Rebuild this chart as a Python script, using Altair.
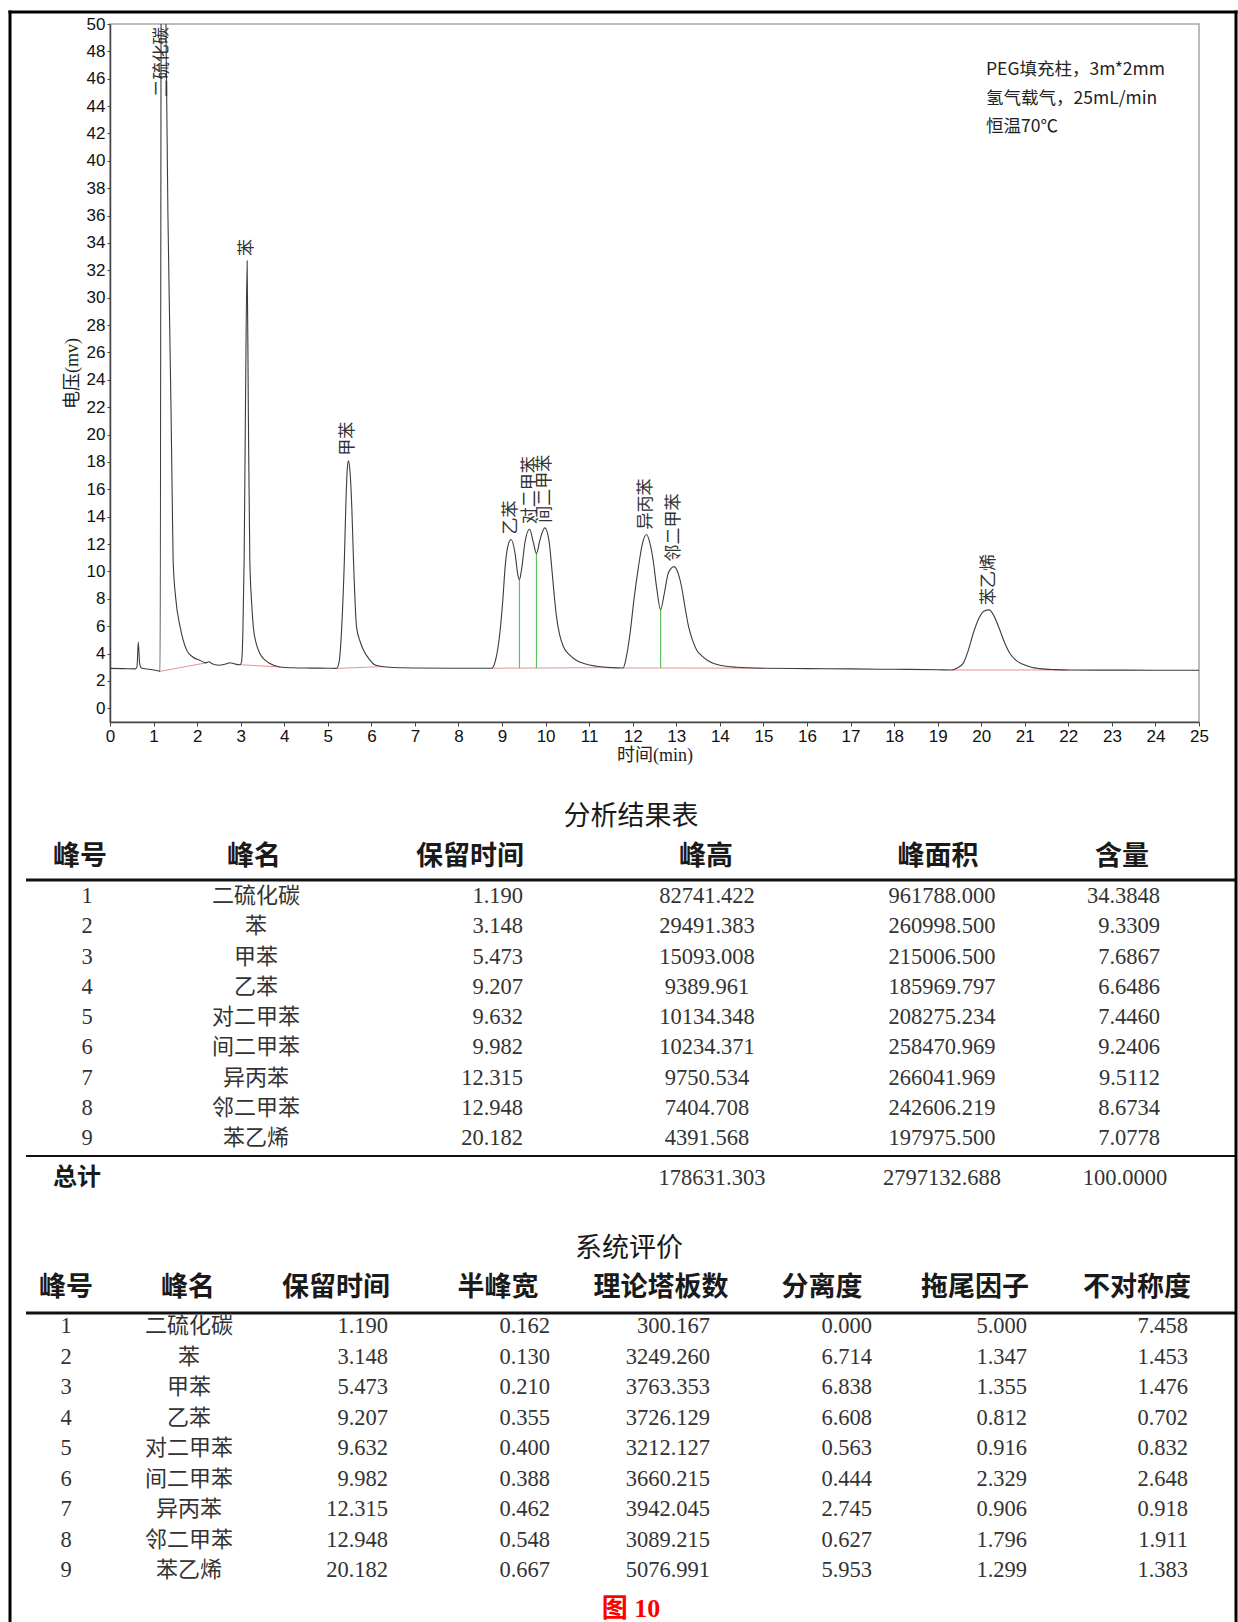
import altair as alt
import pandas as pd

# ---------------- peak table ----------------
peak_no = [1, 2, 3, 4, 5, 6, 7, 8, 9]
peak_names = ["二硫化碳", "苯", "甲苯", "乙苯", "对二甲苯", "间二甲苯", "异丙苯", "邻二甲苯", "苯乙烯"]
retention = [1.190, 3.148, 5.473, 9.207, 9.632, 9.982, 12.315, 12.948, 20.182]
peak_height = [82741.422, 29491.383, 15093.008, 9389.961, 10134.348, 10234.371, 9750.534, 7404.708, 4391.568]
peak_area = [961788.000, 260998.500, 215006.500, 185969.797, 208275.234, 258470.969, 266041.969, 242606.219, 197975.500]
content = [34.3848, 9.3309, 7.6867, 6.6486, 7.4460, 9.2406, 9.5112, 8.6734, 7.0778]
total_height = 178631.303
total_area = 2797132.688
total_content = 100.0000

# ---------------- system evaluation ----------------
half_width = [0.162, 0.130, 0.210, 0.355, 0.400, 0.388, 0.462, 0.548, 0.667]
plates = [300.167, 3249.260, 3763.353, 3726.129, 3212.127, 3660.215, 3942.045, 3089.215, 5076.991]
resolution = [0.000, 6.714, 6.838, 6.608, 0.563, 0.444, 2.745, 0.627, 5.953]
tailing = [5.000, 1.347, 1.355, 0.812, 0.916, 2.329, 0.906, 1.796, 1.299]
asymmetry = [7.458, 1.453, 1.476, 0.702, 0.832, 2.648, 0.918, 1.911, 1.383]

# ---------------- chromatogram ----------------
# detector signal (min, mV) between the apexes; apexes come from the peak table
trace_t = [0.00, 0.30, 0.58, 0.62, 0.65, 0.68, 0.72, 0.90, 1.10, 1.150,
           1.24, 1.29, 1.33, 1.37, 1.40, 1.43, 1.45, 1.51, 1.61, 1.76, 1.90, 2.07, 2.20, 2.28, 2.33,
           2.50, 2.68, 2.75, 2.85, 2.98, 3.02, 3.05, 3.08, 3.11,
           3.175, 3.21, 3.25, 3.29, 3.36, 3.44, 3.55, 3.67, 3.90, 4.20, 4.60, 5.00, 5.20,
           5.26, 5.32, 5.38, 5.42, 5.45,
           5.51, 5.55, 5.59, 5.66, 5.74, 5.82, 5.95, 6.10, 6.40, 7.00, 8.00, 8.76,
           8.85, 8.95, 9.02, 9.07, 9.13,
           9.30, 9.36, 9.40, 9.45, 9.53,
           9.72, 9.79, 9.87,
           10.08, 10.14, 10.20, 10.25, 10.32, 10.41, 10.55, 10.71, 10.90, 11.17, 11.50, 11.78,
           11.85, 11.94, 12.03, 12.13, 12.22,
           12.40, 12.47, 12.55, 12.64, 12.72, 12.82,
           13.05, 13.12, 13.20, 13.28, 13.37, 13.47, 13.60, 13.77, 14.00, 14.39,
           15.00, 16.00, 17.00, 18.00, 19.00, 19.32, 19.45, 19.59, 19.70, 19.82, 19.95, 20.06,
           20.30, 20.43, 20.55, 20.66, 20.80, 20.93, 21.15, 21.35, 21.70, 22.00, 23.00, 24.00, 25.00]
trace_mv = [2.92, 2.90, 2.88, 3.05, 4.85, 3.30, 2.95, 2.85, 2.74, 2.70,
            66.0, 48.0, 36.0, 28.0, 22.0, 15.0, 10.8, 8.0, 5.95, 4.25, 3.75, 3.50, 3.32, 3.40, 3.28,
            3.15, 3.25, 3.33, 3.25, 3.18, 3.40, 5.50, 11.0, 22.0,
            22.0, 10.8, 7.8, 5.95, 4.70, 4.00, 3.55, 3.27, 3.02, 2.96, 2.94, 2.93, 2.92,
            3.40, 5.95, 10.8, 15.5, 17.6,
            17.3, 14.8, 10.8, 5.95, 4.90, 4.25, 3.60, 3.15, 3.00, 2.95, 2.93, 2.93,
            3.50, 5.50, 8.00, 10.3, 11.8,
            11.3, 9.80, 9.40, 10.2, 12.2,
            12.1, 11.3, 12.3,
            12.2, 10.3, 8.20, 6.70, 5.40, 4.50, 3.90, 3.50, 3.25, 3.07, 2.97, 2.95,
            3.70, 5.50, 8.00, 10.3, 12.0,
            12.0, 10.8, 8.80, 7.20, 8.30, 9.90,
            9.80, 8.90, 7.40, 6.00, 5.00, 4.25, 3.80, 3.40, 3.15, 3.00,
            2.93, 2.90, 2.88, 2.85, 2.82, 2.80, 2.95, 3.30, 4.20, 5.50, 6.60, 7.10,
            6.70, 5.70, 4.70, 4.00, 3.50, 3.25, 3.00, 2.90, 2.83, 2.80, 2.79, 2.78, 2.78]
# local baseline under each apex (mV); peak heights in the table are in µV
peak_base_mv = [2.70, 3.20, 3.00, 2.95, 2.95, 2.95, 2.95, 2.95, 2.80]

# integration baselines for each peak group
bl_t0 = [1.150, 3.00, 5.22, 8.76, 11.78, 19.32]
bl_v0 = [2.70, 3.18, 2.92, 2.93, 2.95, 2.80]
bl_t1 = [2.20, 3.90, 6.30, 11.50, 15.00, 22.00]
bl_v1 = [3.32, 3.02, 3.05, 2.97, 2.93, 2.80]

# perpendicular drops at the unresolved valleys
valley_t = [9.40, 9.79, 12.64]
valley_mv = [9.40, 11.3, 7.20]
valley_base_mv = [2.94, 2.94, 2.94]

conditions = ["PEG填充柱，3m*2mm", "氢气载气，25mL/min", "恒温70℃"]

# ---------------- styling ----------------
SANS = "'Liberation Sans', 'Noto Sans CJK SC'"
SERIF = "'Liberation Serif', 'Noto Sans CJK SC'"
CJK = "'Noto Sans CJK SC'"

x_scale = alt.Scale(domain=[0, 25], nice=False, zero=False)
y_scale = alt.Scale(domain=[-1, 50], nice=False, zero=False)
x_axis = alt.Axis(values=list(range(26)), format="d", title="时间(min)", grid=False,
                  labelFont=SANS, labelFontSize=17, labelColor="#111", labelFlush=False,
                  labelPadding=2, tickSize=4, tickColor="#444", domainColor="#444",
                  domainWidth=1.5, titleFont=SERIF, titleFontSize=18, titleFontWeight="normal",
                  titleColor="#222", titlePadding=2)
y_axis = alt.Axis(values=list(range(0, 51, 2)), format="d", title="电压(mv)", grid=False,
                  labelFont=SANS, labelFontSize=17, labelColor="#111", labelFlush=False,
                  labelPadding=2, tickSize=3, tickColor="#444", domainColor="#444",
                  domainWidth=1.5, titleFont=SERIF, titleFontSize=18, titleFontWeight="normal",
                  titleColor="#222", titlePadding=5)


def X(field):
    return alt.X(f"{field}:Q", scale=x_scale, axis=x_axis)


def Y(field):
    return alt.Y(f"{field}:Q", scale=y_scale, axis=y_axis)


apex_mv = [b + h / 1000.0 for b, h in zip(peak_base_mv, peak_height)]
signal = pd.DataFrame({"t": trace_t + retention, "mv": trace_mv + apex_mv}).sort_values("t")
peaks = pd.DataFrame({"rt": retention, "apex": apex_mv, "name": peak_names})

line = alt.Chart(signal).mark_line(color="#3c3c3c", strokeWidth=1.1, clip=True,
                                   interpolate="monotone").encode(x=X("t"), y=Y("mv"))

baselines = alt.Chart(pd.DataFrame({"t0": bl_t0, "v0": bl_v0, "t1": bl_t1, "v1": bl_v1})).mark_rule(
    color="#e07878", strokeWidth=1, opacity=0.8).encode(x=X("t0"), y=Y("v0"), x2="t1", y2="v1")

drops = alt.Chart(pd.DataFrame({"t": valley_t, "lo": valley_base_mv, "hi": valley_mv})).mark_rule(
    color="#5cc05c", strokeWidth=1.2).encode(x=X("t"), y=Y("lo"), y2="hi")

labels = alt.Chart(peaks.iloc[1:]).mark_text(
    angle=270, align="left", baseline="middle", dx=5, font=CJK, fontSize=17, color="#333"
).encode(x=X("rt"), y=Y("apex"), text="name:N")

# the carbon disulfide apex is off scale: its name hangs from the top edge
cs2_label = alt.Chart(peaks.iloc[:1]).mark_text(
    angle=270, align="right", baseline="middle", font=CJK, fontSize=17.5, color="#333"
).encode(x=X("rt"), y=alt.value(3), text="name:N")


def text_at(label, x, y, **style):
    return alt.Chart(pd.DataFrame({"label": [label]})).mark_text(baseline="middle", **style).encode(
        text="label:N", x=alt.value(x), y=alt.value(y))


notes = [text_at(s, 876, 46 + i * 28.5, align="left", font=CJK, fontSize=17.5, color="#222")
         for i, s in enumerate(conditions)]

chrom = alt.layer(baselines, drops, line, labels, cs2_label, *notes)


# ---------------- tables (drawn below the plot area) ----------------
def rows_y(top, bottom):
    return alt.Y("row:Q", scale=alt.Scale(domain=[1, 9], range=[top, bottom], nice=False, zero=False),
                 axis=None)


def column(df, field, x, align, yenc, fmt=None, font=SERIF, size=22.5):
    text = alt.Text(f"{field}:Q", format=fmt) if fmt else alt.Text(f"{field}:N")
    return alt.Chart(df).mark_text(align=align, baseline="middle", font=font, fontSize=size,
                                   color="#333").encode(x=alt.value(x), y=yenc, text=text)


def value_at(v, fmt, x, y):
    return alt.Chart(pd.DataFrame({"v": [v]})).mark_text(
        align="center", baseline="middle", font=SERIF, fontSize=22.5, color="#333"
    ).encode(text=alt.Text("v:Q", format=fmt), x=alt.value(x), y=alt.value(y))


def hrule(y, w):
    return alt.Chart(pd.DataFrame({"k": [0]})).mark_rule(color="#111", strokeWidth=w).encode(
        x=alt.value(-84), x2=alt.value(1126), y=alt.value(y))


HEAD = dict(align="center", font=CJK, fontSize=27, fontWeight="bold", color="#1a1a1a")
TITLE = dict(align="center", font=CJK, fontSize=27, color="#1a1a1a")

t1 = pd.DataFrame({"row": peak_no, "name": peak_names, "rt": retention, "height": peak_height,
                   "area": peak_area, "content": content})
y1 = rows_y(872, 1114)
table1 = alt.layer(
    text_at("分析结果表", 521, 793, **TITLE),
    *[text_at(h, x, 833, **HEAD) for h, x in
      [("峰号", -30), ("峰名", 144), ("保留时间", 360), ("峰高", 596), ("峰面积", 828), ("含量", 1012)]],
    hrule(856, 3),
    column(t1, "row", -23, "center", y1, fmt="d"),
    column(t1, "name", 146, "center", y1, font=CJK, size=22),
    column(t1, "rt", 413, "right", y1, fmt=".3f"),
    column(t1, "height", 597, "center", y1, fmt=".3f"),
    column(t1, "area", 832, "center", y1, fmt=".3f"),
    column(t1, "content", 1050, "right", y1, fmt=".4f"),
    hrule(1132, 2),
    text_at("总计", -33, 1154, align="center", font=CJK, fontSize=24, fontWeight="bold", color="#1a1a1a"),
    value_at(total_height, ".3f", 602, 1154),
    value_at(total_area, ".3f", 832, 1154),
    value_at(total_content, ".4f", 1015, 1154),
)

t2 = pd.DataFrame({"row": peak_no, "name": peak_names, "rt": retention, "hw": half_width,
                   "plates": plates, "res": resolution, "tail": tailing, "asym": asymmetry})
y2 = rows_y(1302, 1546)
table2 = alt.layer(
    text_at("系统评价", 519, 1225, **TITLE),
    *[text_at(h, x, 1264, **HEAD) for h, x in
      [("峰号", -44), ("峰名", 78), ("保留时间", 226), ("半峰宽", 388), ("理论塔板数", 551),
       ("分离度", 712), ("拖尾因子", 865), ("不对称度", 1027)]],
    hrule(1289, 3),
    column(t2, "row", -44, "center", y2, fmt="d"),
    column(t2, "name", 79, "center", y2, font=CJK, size=22),
    column(t2, "rt", 278, "right", y2, fmt=".3f"),
    column(t2, "hw", 440, "right", y2, fmt=".3f"),
    column(t2, "plates", 600, "right", y2, fmt=".3f"),
    column(t2, "res", 762, "right", y2, fmt=".3f"),
    column(t2, "tail", 917, "right", y2, fmt=".3f"),
    column(t2, "asym", 1078, "right", y2, fmt=".3f"),
)

caption = text_at("图 10", 521, 1585, align="center", font=SERIF, fontSize=26, fontWeight="bold",
                  color="#ff0000")

# page frame
frame_df = pd.DataFrame({"k": [0]})
frame = alt.layer(
    alt.Chart(frame_df).mark_rule(color="black", strokeWidth=3).encode(
        x=alt.value(-100), y=alt.value(-13.5), y2=alt.value(1600)),
    alt.Chart(frame_df).mark_rule(color="black", strokeWidth=3).encode(
        x=alt.value(1126), y=alt.value(-13.5), y2=alt.value(1600)),
    alt.Chart(frame_df).mark_rule(color="black", strokeWidth=3).encode(
        x=alt.value(-101.5), x2=alt.value(1127.5), y=alt.value(-12)),
)

chart = alt.layer(chrom, table1, table2, caption, frame).resolve_scale(
    y="independent"
).properties(
    width=1089,
    height=698,
    padding={"left": 110, "top": 24, "right": 39, "bottom": 900},
    autosize=alt.AutoSizeParams(type="none"),
    background="white",
).configure_view(stroke="#a6a6a6", strokeWidth=1.5)

chart.save("out.html", embed_options={"renderer": "svg", "actions": False})
